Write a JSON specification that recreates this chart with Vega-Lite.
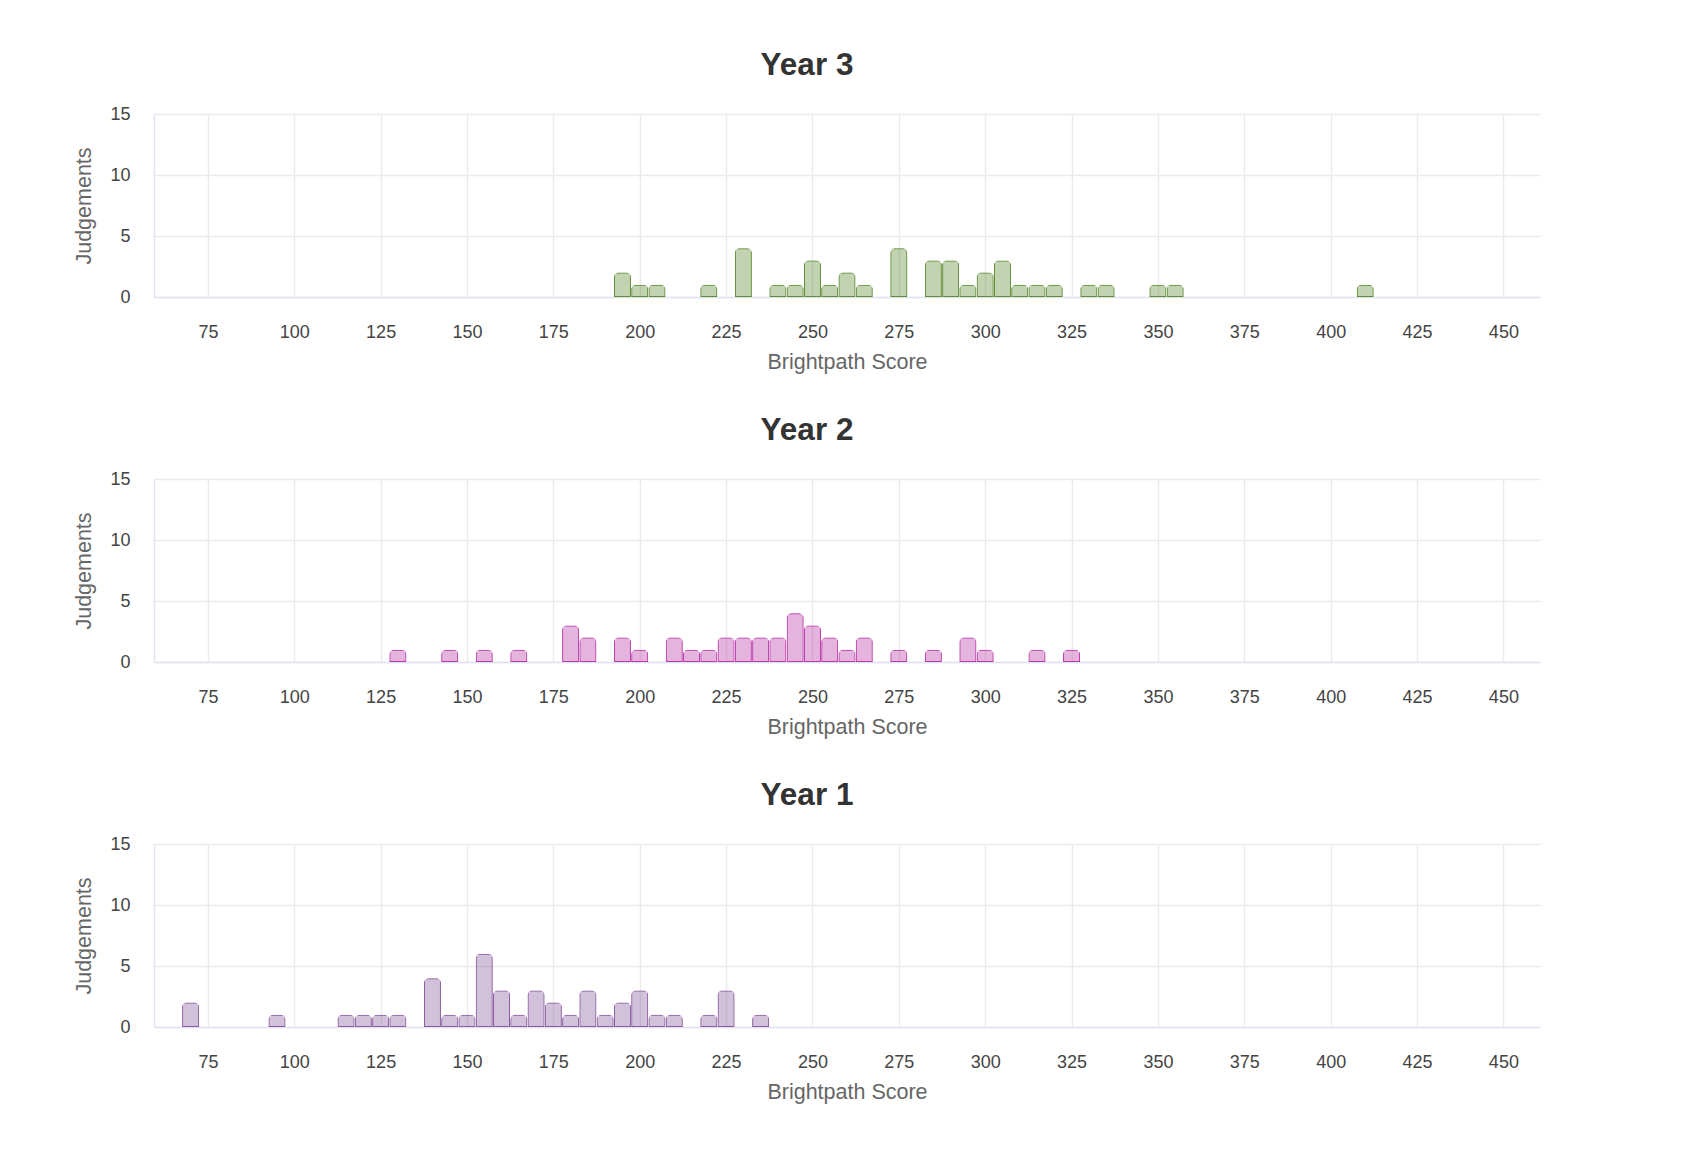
{
  "$schema": "https://vega.github.io/schema/vega-lite/v6.json",
  "padding": {"left": 73, "top": 49, "right": 10, "bottom": 10},
  "background": "white",
  "datasets": {
    "scores": [
      {"year": "Year 3", "score": 195, "judgements": 2},
      {"year": "Year 3", "score": 200, "judgements": 1},
      {"year": "Year 3", "score": 205, "judgements": 1},
      {"year": "Year 3", "score": 220, "judgements": 1},
      {"year": "Year 3", "score": 230, "judgements": 4},
      {"year": "Year 3", "score": 240, "judgements": 1},
      {"year": "Year 3", "score": 245, "judgements": 1},
      {"year": "Year 3", "score": 250, "judgements": 3},
      {"year": "Year 3", "score": 255, "judgements": 1},
      {"year": "Year 3", "score": 260, "judgements": 2},
      {"year": "Year 3", "score": 265, "judgements": 1},
      {"year": "Year 3", "score": 275, "judgements": 4},
      {"year": "Year 3", "score": 285, "judgements": 3},
      {"year": "Year 3", "score": 290, "judgements": 3},
      {"year": "Year 3", "score": 295, "judgements": 1},
      {"year": "Year 3", "score": 300, "judgements": 2},
      {"year": "Year 3", "score": 305, "judgements": 3},
      {"year": "Year 3", "score": 310, "judgements": 1},
      {"year": "Year 3", "score": 315, "judgements": 1},
      {"year": "Year 3", "score": 320, "judgements": 1},
      {"year": "Year 3", "score": 330, "judgements": 1},
      {"year": "Year 3", "score": 335, "judgements": 1},
      {"year": "Year 3", "score": 350, "judgements": 1},
      {"year": "Year 3", "score": 355, "judgements": 1},
      {"year": "Year 3", "score": 410, "judgements": 1},
      {"year": "Year 2", "score": 130, "judgements": 1},
      {"year": "Year 2", "score": 145, "judgements": 1},
      {"year": "Year 2", "score": 155, "judgements": 1},
      {"year": "Year 2", "score": 165, "judgements": 1},
      {"year": "Year 2", "score": 180, "judgements": 3},
      {"year": "Year 2", "score": 185, "judgements": 2},
      {"year": "Year 2", "score": 195, "judgements": 2},
      {"year": "Year 2", "score": 200, "judgements": 1},
      {"year": "Year 2", "score": 210, "judgements": 2},
      {"year": "Year 2", "score": 215, "judgements": 1},
      {"year": "Year 2", "score": 220, "judgements": 1},
      {"year": "Year 2", "score": 225, "judgements": 2},
      {"year": "Year 2", "score": 230, "judgements": 2},
      {"year": "Year 2", "score": 235, "judgements": 2},
      {"year": "Year 2", "score": 240, "judgements": 2},
      {"year": "Year 2", "score": 245, "judgements": 4},
      {"year": "Year 2", "score": 250, "judgements": 3},
      {"year": "Year 2", "score": 255, "judgements": 2},
      {"year": "Year 2", "score": 260, "judgements": 1},
      {"year": "Year 2", "score": 265, "judgements": 2},
      {"year": "Year 2", "score": 275, "judgements": 1},
      {"year": "Year 2", "score": 285, "judgements": 1},
      {"year": "Year 2", "score": 295, "judgements": 2},
      {"year": "Year 2", "score": 300, "judgements": 1},
      {"year": "Year 2", "score": 315, "judgements": 1},
      {"year": "Year 2", "score": 325, "judgements": 1},
      {"year": "Year 1", "score": 70, "judgements": 2},
      {"year": "Year 1", "score": 95, "judgements": 1},
      {"year": "Year 1", "score": 115, "judgements": 1},
      {"year": "Year 1", "score": 120, "judgements": 1},
      {"year": "Year 1", "score": 125, "judgements": 1},
      {"year": "Year 1", "score": 130, "judgements": 1},
      {"year": "Year 1", "score": 140, "judgements": 4},
      {"year": "Year 1", "score": 145, "judgements": 1},
      {"year": "Year 1", "score": 150, "judgements": 1},
      {"year": "Year 1", "score": 155, "judgements": 6},
      {"year": "Year 1", "score": 160, "judgements": 3},
      {"year": "Year 1", "score": 165, "judgements": 1},
      {"year": "Year 1", "score": 170, "judgements": 3},
      {"year": "Year 1", "score": 175, "judgements": 2},
      {"year": "Year 1", "score": 180, "judgements": 1},
      {"year": "Year 1", "score": 185, "judgements": 3},
      {"year": "Year 1", "score": 190, "judgements": 1},
      {"year": "Year 1", "score": 195, "judgements": 2},
      {"year": "Year 1", "score": 200, "judgements": 3},
      {"year": "Year 1", "score": 205, "judgements": 1},
      {"year": "Year 1", "score": 210, "judgements": 1},
      {"year": "Year 1", "score": 220, "judgements": 1},
      {"year": "Year 1", "score": 225, "judgements": 3},
      {"year": "Year 1", "score": 235, "judgements": 1}
    ]
  },
  "data": {"name": "scores"},
  "spacing": 41,
  "vconcat": [
    {
      "title": "Year 3",
      "width": 1386,
      "height": 183,
      "transform": [{"filter": "datum.year === 'Year 3'"}],
      "mark": {"type": "bar", "width": 17, "fillOpacity": 0.38, "strokeWidth": 2, "cornerRadiusTopLeft": 5, "cornerRadiusTopRight": 5},
      "encoding": {
        "x": {"field": "score", "type": "quantitative", "scale": {"domain": [59.4, 460.6], "nice": false, "zero": false, "padding": 0}, "axis": {"values": [75, 100, 125, 150, 175, 200, 225, 250, 275, 300, 325, 350, 375, 400, 425, 450], "title": "Brightpath Score"}},
        "y": {"field": "judgements", "type": "quantitative", "scale": {"domain": [0, 15], "nice": false}, "axis": {"values": [0, 5, 10, 15], "title": "Judgements"}},
        "fill": {"field": "year", "type": "nominal", "scale": {"domain": ["Year 1", "Year 2", "Year 3"], "range": ["#8a5c9e", "#b83aa8", "#5e8c34"]}, "legend": null},
        "stroke": {"field": "year", "type": "nominal", "scale": {"domain": ["Year 1", "Year 2", "Year 3"], "range": ["#8a5c9e", "#b83aa8", "#5e8c34"]}, "legend": null}
      }
    },
    {
      "title": "Year 2",
      "width": 1386,
      "height": 183,
      "transform": [{"filter": "datum.year === 'Year 2'"}],
      "mark": {"type": "bar", "width": 17, "fillOpacity": 0.38, "strokeWidth": 2, "cornerRadiusTopLeft": 5, "cornerRadiusTopRight": 5},
      "encoding": {
        "x": {"field": "score", "type": "quantitative", "scale": {"domain": [59.4, 460.6], "nice": false, "zero": false, "padding": 0}, "axis": {"values": [75, 100, 125, 150, 175, 200, 225, 250, 275, 300, 325, 350, 375, 400, 425, 450], "title": "Brightpath Score"}},
        "y": {"field": "judgements", "type": "quantitative", "scale": {"domain": [0, 15], "nice": false}, "axis": {"values": [0, 5, 10, 15], "title": "Judgements"}},
        "fill": {"field": "year", "type": "nominal", "scale": {"domain": ["Year 1", "Year 2", "Year 3"], "range": ["#8a5c9e", "#b83aa8", "#5e8c34"]}, "legend": null},
        "stroke": {"field": "year", "type": "nominal", "scale": {"domain": ["Year 1", "Year 2", "Year 3"], "range": ["#8a5c9e", "#b83aa8", "#5e8c34"]}, "legend": null}
      }
    },
    {
      "title": "Year 1",
      "width": 1386,
      "height": 183,
      "transform": [{"filter": "datum.year === 'Year 1'"}],
      "mark": {"type": "bar", "width": 17, "fillOpacity": 0.38, "strokeWidth": 2, "cornerRadiusTopLeft": 5, "cornerRadiusTopRight": 5},
      "encoding": {
        "x": {"field": "score", "type": "quantitative", "scale": {"domain": [59.4, 460.6], "nice": false, "zero": false, "padding": 0}, "axis": {"values": [75, 100, 125, 150, 175, 200, 225, 250, 275, 300, 325, 350, 375, 400, 425, 450], "title": "Brightpath Score"}},
        "y": {"field": "judgements", "type": "quantitative", "scale": {"domain": [0, 15], "nice": false}, "axis": {"values": [0, 5, 10, 15], "title": "Judgements"}},
        "fill": {"field": "year", "type": "nominal", "scale": {"domain": ["Year 1", "Year 2", "Year 3"], "range": ["#8a5c9e", "#b83aa8", "#5e8c34"]}, "legend": null},
        "stroke": {"field": "year", "type": "nominal", "scale": {"domain": ["Year 1", "Year 2", "Year 3"], "range": ["#8a5c9e", "#b83aa8", "#5e8c34"]}, "legend": null}
      }
    }
  ],
  "config": {
    "font": "Liberation Sans",
    "view": {"stroke": null},
    "title": {"fontSize": 31.5, "fontWeight": "bold", "color": "#333333", "anchor": "middle", "frame": "bounds", "offset": 24, "font": "Liberation Sans"},
    "axis": {
      "ticks": false,
      "domainColor": "#e2e2f6",
      "domainWidth": 1.5,
      "gridColor": "#ebebeb",
      "gridWidth": 1.5,
      "labelFontSize": 18,
      "labelColor": "#444444",
      "titleFontSize": 21.5,
      "titleFontWeight": "normal",
      "titleColor": "#666666"
    },
    "axisX": {"labelPadding": 26, "titlePadding": 10},
    "axisY": {"labelPadding": 24, "titlePadding": 14}
  }
}
